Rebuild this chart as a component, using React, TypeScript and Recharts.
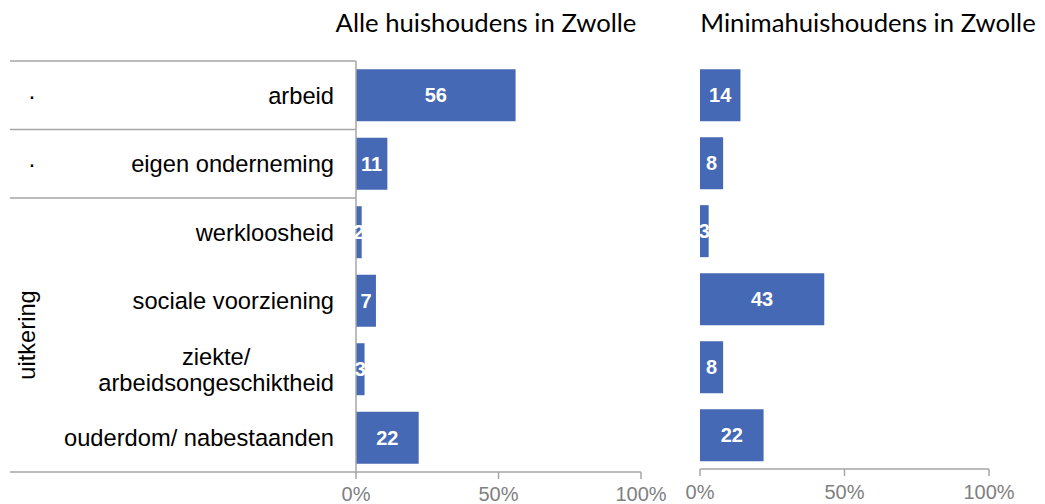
import React from 'react'
import { BarChart, Bar, XAxis, YAxis, LabelList } from 'recharts'

const categories = [
  'arbeid',
  'eigen onderneming',
  'werkloosheid',
  'sociale voorziening',
  'ziekte/\narbeidsongeschiktheid',
  'ouderdom/ nabestaanden',
]
const alleValues = [56, 11, 2, 7, 3, 22]
const minimaValues = [14, 8, 3, 43, 8, 22]
const xTicks = [0, 50, 100]
const titles = ['Alle huishoudens in Zwolle', 'Minimahuishoudens in Zwolle']
const groupLabel = 'uitkering'

const data = categories.map((name, i) => ({ name, alle: alleValues[i], minima: minimaValues[i] }))

const BAR = '#4669b5'
const AXIS = '#a6a6a6'
const LABEL_FONT = '"Liberation Sans", Arial, sans-serif'
const CAT_SIZE = 23.7

let measureCtx: CanvasRenderingContext2D | null = null
function textWidth(s: string) {
  if (!measureCtx) measureCtx = document.createElement('canvas').getContext('2d')
  if (!measureCtx) return s.length * CAT_SIZE * 0.5
  measureCtx.font = `${CAT_SIZE}px "Liberation Sans"`
  return measureCtx.measureText(s).width
}

function CategoryTick(props: any) {
  const { x, y, payload, index } = props
  const half = payload?.offset || 34
  const axisX = x + 22
  const lines = String(payload.value).split('\n')
  const last = categories.length - 1
  const blockW = Math.max(...lines.map(textWidth))
  return (
    <g>
      {index <= 2 && <line x1={10} x2={axisX} y1={y - half} y2={y - half} stroke={AXIS} strokeWidth={1.5} />}
      {index === last && <line x1={10} x2={axisX} y1={y + half} y2={y + half} stroke={AXIS} strokeWidth={1.5} />}
      {index <= 1 && (
        <text x={32} y={y} dy="0.35em" textAnchor="middle" fontSize={CAT_SIZE} fontFamily={LABEL_FONT} fill="#000">
          ·
        </text>
      )}
      {index === 3 && (
        <text
          transform={`translate(35, ${y + half}) rotate(-90)`}
          textAnchor="middle"
          fontSize={CAT_SIZE}
          fontFamily={LABEL_FONT}
          fill="#000"
        >
          {groupLabel}
        </text>
      )}
      {lines.length === 1 ? (
        <text x={x} y={y} dy="0.35em" textAnchor="end" fontSize={CAT_SIZE} fontFamily={LABEL_FONT} fill="#000">
          {lines[0]}
        </text>
      ) : (
        lines.map((l, i) => (
          <text
            key={i}
            x={x - blockW / 2}
            y={y + (i - (lines.length - 1) / 2) * 26}
            dy="0.35em"
            textAnchor="middle"
            fontSize={CAT_SIZE}
            fontFamily={LABEL_FONT}
            fill="#000"
          >
            {l}
          </text>
        ))
      )}
    </g>
  )
}

const tickStyle = { fill: '#808080', fontSize: 20, fontFamily: LABEL_FONT }

export default function App() {
  return (
    <div style={{ position: 'fixed', left: 0, top: 0, width: 1045, height: 504, background: '#fff' }}>
      <svg width={1045} height={504} style={{ position: 'absolute', left: 0, top: 0 }}>
        <text x={486} y={32} textAnchor="middle" fontSize={25.7} fontFamily="Lato, sans-serif" fill="#000">
          {titles[0]}
        </text>
        <text x={868} y={32} textAnchor="middle" fontSize={25.7} fontFamily="Lato, sans-serif" fill="#000">
          {titles[1]}
        </text>
      </svg>
      <div style={{ position: 'absolute', left: 0, top: 0 }}>
        <BarChart width={680} height={504} data={data} layout="vertical" margin={{ top: 61, right: 39, bottom: 0, left: 0 }} barCategoryGap="12%">
          <XAxis
            type="number"
            domain={[0, 100]}
            ticks={xTicks}
            tickFormatter={(v: number) => `${v}%`}
            height={32}
            stroke={AXIS}
            strokeWidth={1.5}
            tickSize={7}
            tickMargin={8}
            tick={tickStyle}
            interval={0}
          />
          <YAxis
            type="category"
            dataKey="name"
            width={356}
            stroke={AXIS}
            strokeWidth={1.5}
            tickLine={false}
            tickSize={0}
            tickMargin={22}
            tick={<CategoryTick />}
            interval={0}
          />
          <Bar dataKey="alle" fill={BAR} isAnimationActive={false}>
            <LabelList dataKey="alle" position="center" fill="#fff" fontSize={20} fontWeight="bold" fontFamily={LABEL_FONT} />
          </Bar>
        </BarChart>
      </div>
      <div style={{ position: 'absolute', left: 680, top: 0 }}>
        <BarChart width={365} height={504} data={data} layout="vertical" margin={{ top: 61, right: 56, bottom: 0, left: 20 }} barCategoryGap="12%">
          <XAxis
            type="number"
            domain={[0, 100]}
            ticks={xTicks}
            tickFormatter={(v: number) => `${v}%`}
            height={35}
            stroke={AXIS}
            strokeWidth={1.5}
            tickSize={7}
            tickMargin={9}
            tick={tickStyle}
            interval={0}
          />
          <YAxis type="category" dataKey="name" hide width={0} />
          <Bar dataKey="minima" fill={BAR} isAnimationActive={false}>
            <LabelList dataKey="minima" position="center" fill="#fff" fontSize={20} fontWeight="bold" fontFamily={LABEL_FONT} />
          </Bar>
        </BarChart>
      </div>
    </div>
  )
}
